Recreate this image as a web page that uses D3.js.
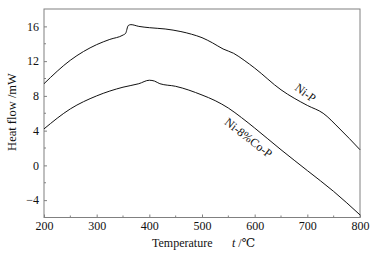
<!DOCTYPE html>
<html>
<head>
<meta charset="utf-8">
<script src="https://cdn.jsdelivr.net/npm/d3@7"></script>
<style>
  body { margin: 0; background: #fff; }
  svg text { font-family: "Liberation Serif", "DejaVu Serif", serif !important; fill: #111; }
</style>
</head>
<body>
<div id="chart"></div>
<script>
// data
var tempNiP   = [200, 250, 300, 325, 350, 355, 360, 365, 380, 400, 430, 460, 480, 500, 520, 540, 560, 580, 600, 650, 700, 730, 760, 800];
var flowNiP   = [9.4, 12.1, 13.9, 14.5, 15.0, 15.2, 16.1, 16.2, 16.0, 15.85, 15.7, 15.4, 15.1, 14.7, 14.1, 13.4, 12.9, 12.1, 11.2, 8.7, 6.9, 6.0, 4.3, 1.8];
var tempNiCoP = [200, 250, 300, 350, 380, 400, 410, 420, 450, 500, 525, 550, 575, 600, 650, 700, 750, 800];
var flowNiCoP = [4.2, 6.5, 8.0, 9.0, 9.4, 9.8, 9.7, 9.4, 9.1, 8.1, 7.45, 6.6, 5.5, 4.3, 1.8, -0.6, -3.0, -5.7];
var xTicks = [200, 300, 400, 500, 600, 700, 800];
var yTicks = [-4, 0, 4, 8, 12, 16];

var width = 378, height = 255;
var margin = {top: 9, right: 18, bottom: 37.5, left: 44};

var svg = d3.select("#chart").append("svg")
  .attr("width", width)
  .attr("height", height);

var x = d3.scaleLinear().domain([200, 800]).range([margin.left, width - margin.right]);
var y = d3.scaleLinear().domain([-6, 18]).range([height - margin.bottom, margin.top]);

var axisColor = "#808080";

// frame
svg.append("rect")
  .attr("x", x(200)).attr("y", y(18))
  .attr("width", x(800) - x(200)).attr("height", y(-6) - y(18))
  .attr("fill", "none").attr("stroke", axisColor).attr("stroke-width", 1);

// x axis, ticks inside
var gx = svg.append("g").attr("transform", "translate(0," + y(-6) + ")");
gx.selectAll("line.minor").data(d3.range(250, 800, 100)).enter().append("line")
  .attr("x1", d => x(d)).attr("x2", d => x(d)).attr("y1", 0).attr("y2", -2)
  .attr("stroke", axisColor);
gx.call(d3.axisBottom(x).tickValues(xTicks).tickSizeInner(-3).tickSizeOuter(0).tickPadding(4))
  .call(g => g.select(".domain").remove())
  .call(g => g.selectAll(".tick line").attr("stroke", axisColor))
  .call(g => g.selectAll("text").style("font-size", "12px"));

// y axis
var gy = svg.append("g").attr("transform", "translate(" + x(200) + ",0)");
gy.selectAll("line.minor").data([-2, 2, 6, 10, 14]).enter().append("line")
  .attr("x1", 0).attr("x2", 2).attr("y1", d => y(d)).attr("y2", d => y(d))
  .attr("stroke", axisColor);
gy.call(d3.axisLeft(y).tickValues(yTicks).tickSizeInner(-3).tickSizeOuter(0).tickPadding(5)
    .tickFormat(d => d < 0 ? "\u2212" + Math.abs(d) : d))
  .call(g => g.select(".domain").remove())
  .call(g => g.selectAll(".tick line").attr("stroke", axisColor))
  .call(g => g.selectAll("text").style("font-size", "12px"));

// curves
var line = d3.line()
  .x(d => x(d[0]))
  .y(d => y(d[1]))
  .curve(d3.curveMonotoneX);

svg.append("path")
  .datum(d3.zip(tempNiP, flowNiP))
  .attr("d", line)
  .attr("fill", "none").attr("stroke", "#111").attr("stroke-width", 1);

svg.append("path")
  .datum(d3.zip(tempNiCoP, flowNiCoP))
  .attr("d", line)
  .attr("fill", "none").attr("stroke", "#111").attr("stroke-width", 1);

// curve labels
svg.append("text")
  .attr("transform", "translate(303,96) rotate(37)")
  .attr("text-anchor", "middle")
  .style("font-size", "12px")
  .text("Ni-P");

svg.append("text")
  .attr("transform", "translate(246,141) rotate(38)")
  .attr("text-anchor", "middle")
  .style("font-size", "12px")
  .text("Ni-8%Co-P");

// axis titles
svg.append("text")
  .attr("x", 152).attr("y", 247)
  .style("font-size", "12px")
  .text("Temperature");

svg.append("text")
  .attr("x", 232).attr("y", 247)
  .style("font-size", "12px")
  .html('<tspan font-style="italic">t</tspan> /\u2103');

svg.append("text")
  .attr("transform", "translate(16,112) rotate(-90)")
  .attr("text-anchor", "middle")
  .style("font-size", "12.5px")
  .text("Heat flow /mW");
</script>
</body>
</html>
